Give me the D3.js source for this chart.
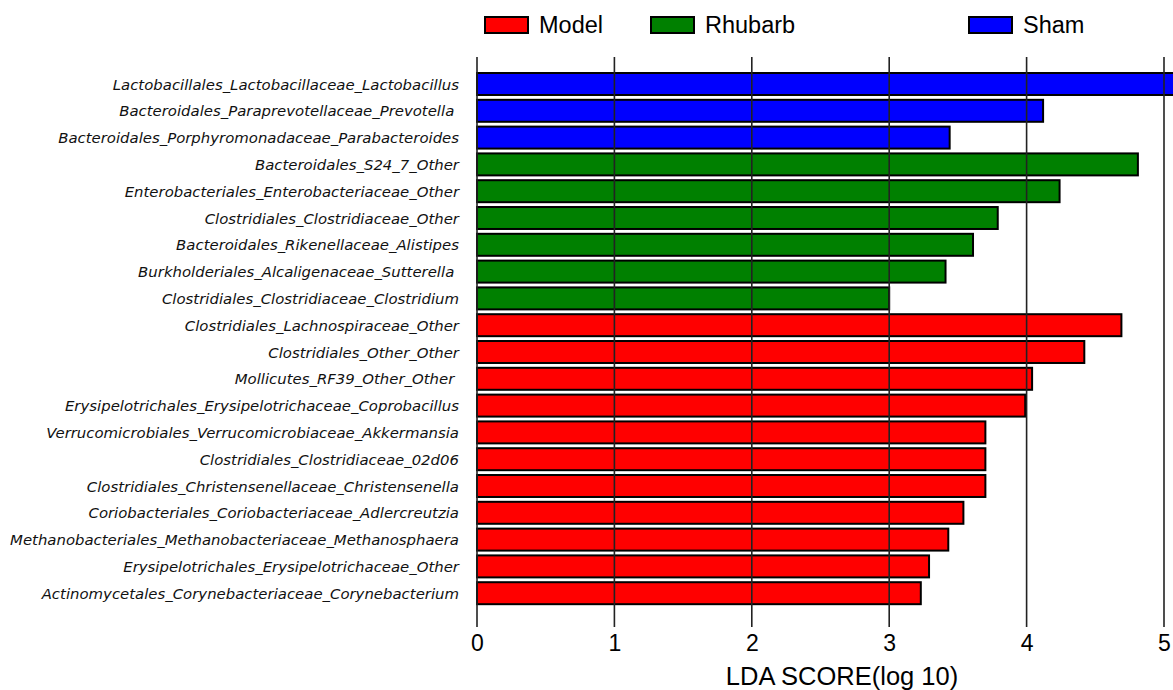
<!DOCTYPE html>
<html>
<head>
<meta charset="utf-8">
<script src="https://cdn.jsdelivr.net/npm/d3@7"></script>
<style>
  html, body { margin: 0; padding: 0; background: #fff; }
  svg { display: block; }
</style>
</head>
<body>
<svg id="chart" width="1173" height="690"></svg>
<script>
// ---- data ----
const taxa = [
  "Lactobacillales_Lactobacillaceae_Lactobacillus",
  "Bacteroidales_Paraprevotellaceae_Prevotella ",
  "Bacteroidales_Porphyromonadaceae_Parabacteroides",
  "Bacteroidales_S24_7_Other",
  "Enterobacteriales_Enterobacteriaceae_Other",
  "Clostridiales_Clostridiaceae_Other",
  "Bacteroidales_Rikenellaceae_Alistipes",
  "Burkholderiales_Alcaligenaceae_Sutterella ",
  "Clostridiales_Clostridiaceae_Clostridium",
  "Clostridiales_Lachnospiraceae_Other",
  "Clostridiales_Other_Other",
  "Mollicutes_RF39_Other_Other ",
  "Erysipelotrichales_Erysipelotrichaceae_Coprobacillus",
  "Verrucomicrobiales_Verrucomicrobiaceae_Akkermansia",
  "Clostridiales_Clostridiaceae_02d06",
  "Clostridiales_Christensenellaceae_Christensenella",
  "Coriobacteriales_Coriobacteriaceae_Adlercreutzia",
  "Methanobacteriales_Methanobacteriaceae_Methanosphaera",
  "Erysipelotrichales_Erysipelotrichaceae_Other",
  "Actinomycetales_Corynebacteriaceae_Corynebacterium"
];
const ldaScores = [5.2, 4.12, 3.44, 4.81, 4.24, 3.79, 3.61, 3.41, 3.00, 4.69,
                   4.42, 4.04, 3.99, 3.70, 3.70, 3.70, 3.54, 3.43, 3.29, 3.23];
const groups = ["Sham", "Sham", "Sham", "Rhubarb", "Rhubarb", "Rhubarb", "Rhubarb", "Rhubarb", "Rhubarb",
                "Model", "Model", "Model", "Model", "Model", "Model", "Model", "Model", "Model", "Model", "Model"];
const legendGroups = ["Model", "Rhubarb", "Sham"];
const groupColors = ["#ff0000", "#008000", "#0000ff"];
const xTicks = [0, 1, 2, 3, 4, 5];
const xTitle = "LDA SCORE(log 10)";

// ---- chart ----
const svg = d3.select("#chart");
const x = d3.scaleLinear().domain([0, 5]).range([477, 1164]);
const y = d3.scaleBand().domain(taxa).range([70.6, 606.6]).paddingInner(0.18).paddingOuter(0.09);
const color = d3.scaleOrdinal().domain(legendGroups).range(groupColors);

const rows = taxa.map((t, i) => ({ name: t, value: ldaScores[i], group: groups[i] }));

// bars
svg.append("g").selectAll("rect")
  .data(rows).join("rect")
  .attr("x", x(0))
  .attr("y", d => y(d.name))
  .attr("width", d => x(d.value) - x(0))
  .attr("height", y.bandwidth())
  .attr("fill", d => color(d.group))
  .attr("stroke", "#000")
  .attr("stroke-width", 2);

// vertical grid lines (drawn over bars)
svg.append("g").selectAll("line")
  .data(xTicks).join("line")
  .attr("x1", d => x(d)).attr("x2", d => x(d))
  .attr("y1", 57).attr("y2", 627)
  .attr("stroke", "#222")
  .attr("stroke-width", 1.6);

// x axis labels via d3 axis
const xAxis = d3.axisBottom(x).tickValues(xTicks).tickSize(0).tickPadding(0).tickFormat(d3.format("d"));
const gx = svg.append("g").attr("transform", "translate(0,635)").call(xAxis);
gx.select(".domain").remove();
gx.selectAll("text")
  .attr("dy", "0.71em")
  .attr("font-family", "'Liberation Sans', Arial, sans-serif")
  .attr("font-size", 23)
  .attr("fill", "#000");

svg.append("text")
  .attr("x", 842).attr("y", 685)
  .attr("text-anchor", "middle")
  .attr("font-family", "'Liberation Sans', Arial, sans-serif")
  .attr("font-size", 25.5)
  .attr("fill", "#000")
  .text(xTitle);

// y labels
svg.append("g").selectAll("text")
  .data(rows).join("text")
  .attr("x", 459)
  .attr("y", d => y(d.name) + y.bandwidth() / 2)
  .attr("dy", "0.38em")
  .attr("text-anchor", "end")
  .attr("font-family", "'DejaVu Sans', Verdana, sans-serif")
  .attr("font-style", "italic")
  .attr("font-size", 14.9)
  .attr("fill", "#111")
  .style("white-space", "pre")
  .text(d => d.name);

// legend
const legendX = [485, 651, 969];
const lg = svg.append("g").selectAll("g")
  .data(legendGroups).join("g")
  .attr("transform", (d, i) => `translate(${legendX[i]},17)`);
lg.append("rect")
  .attr("width", 43).attr("height", 16)
  .attr("fill", d => color(d))
  .attr("stroke", "#000").attr("stroke-width", 2);
lg.append("text")
  .attr("x", 54).attr("y", 16)
  .attr("font-family", "'Liberation Sans', Arial, sans-serif")
  .attr("font-size", 23.5)
  .attr("fill", "#000")
  .text(d => d);
</script>
</body>
</html>
